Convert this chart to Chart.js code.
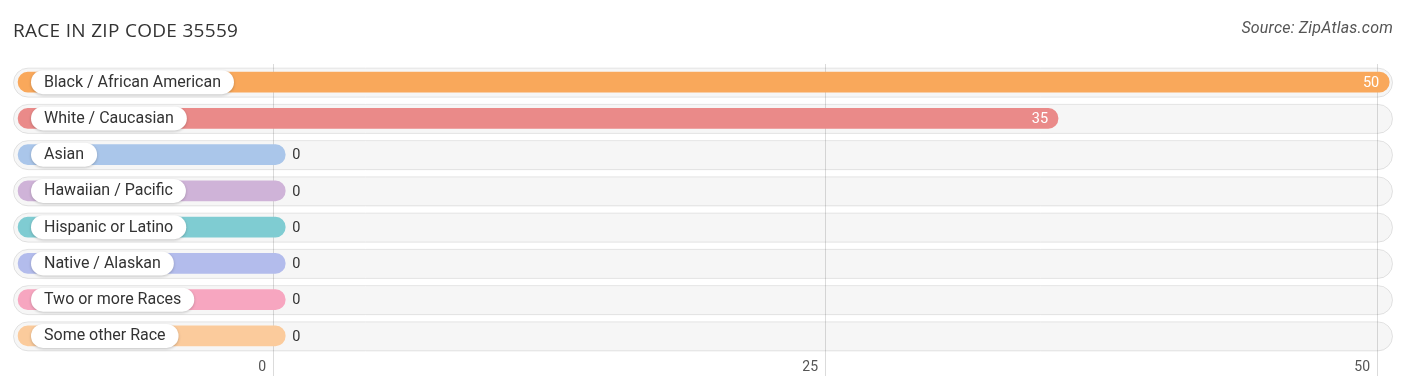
<!DOCTYPE html>
<html>
<head>
<meta charset="utf-8">
<script src="https://cdn.jsdelivr.net/npm/chart.js@4/dist/chart.umd.min.js"></script>
<style>
  html, body { margin: 0; padding: 0; background: #fff; }
  #wrap { position: relative; width: 1406px; height: 391px; overflow: hidden; }
  #c { position: absolute; left: 0; top: 0; }
  #title { position: absolute; left: 13px; top: 17px; font-family: "Open Sans", Lato, sans-serif; font-size: 19px; color: #333; letter-spacing: 0.3px; }
  #source { position: absolute; right: 13px; top: 18px; font-family: Roboto, "Open Sans", sans-serif; font-size: 16px; font-style: italic; color: #555; letter-spacing: 0.2px; }
</style>
</head>
<body>
<div id="wrap">
  <canvas id="c" width="1406" height="391"></canvas>
  <div id="title">RACE IN ZIP CODE 35559</div>
  <div id="source">Source: ZipAtlas.com</div>
</div>
<script>
const categories = ["Black / African American", "White / Caucasian", "Asian", "Hawaiian / Pacific", "Hispanic or Latino", "Native / Alaskan", "Two or more Races", "Some other Race"];
const values = [50, 35, 0, 0, 0, 0, 0, 0];
const barColors = ["#f9a85b", "#ea8a89", "#aac6ea", "#cfb3d8", "#7fccd2", "#b3bcec", "#f7a6c0", "#fbcb9c"];
const tickValues = [0, 25, 50];

const AXIS_MIN = -11.78, AXIS_MAX = 50.72;
const BAR_START = -11.55;   // where the coloured pill begins (left of zero, under the label)
const CAP = 0.55;           // rounded end cap extends past the value

const trackPlugin = {
  id: 'tracks',
  beforeDatasetsDraw(chart) {
    const ctx = chart.ctx, area = chart.chartArea;
    const meta = chart.getDatasetMeta(0);
    ctx.save();
    meta.data.forEach(bar => {
      const h = 29, y = bar.y - h / 2, x = area.left, w = area.right - area.left;
      ctx.beginPath();
      ctx.roundRect(x + 0.5, y + 0.5, w - 1, h, h / 2);
      ctx.shadowColor = 'rgba(0,0,0,0.10)';
      ctx.shadowBlur = 2;
      ctx.shadowOffsetY = 1;
      ctx.fillStyle = 'rgba(0,0,0,0.035)';
      ctx.fill();
      ctx.shadowColor = 'transparent';
      ctx.strokeStyle = 'rgba(0,0,0,0.10)';
      ctx.lineWidth = 1;
      ctx.stroke();
    });
    ctx.restore();
  }
};

const labelPlugin = {
  id: 'pillLabels',
  afterDatasetsDraw(chart) {
    const ctx = chart.ctx, area = chart.chartArea;
    const meta = chart.getDatasetMeta(0);
    ctx.save();
    meta.data.forEach((bar, i) => {
      const endX = Math.max(bar.x, bar.base);
      // category pill
      ctx.font = '16px Roboto, "Open Sans", sans-serif';
      const tw = ctx.measureText(categories[i]).width;
      const ph = 24, px = area.left + 18, py = bar.y - ph / 2, pw = tw + 26;
      ctx.beginPath();
      ctx.roundRect(px, py, pw, ph, ph / 2);
      ctx.shadowColor = 'rgba(0,0,0,0.22)';
      ctx.shadowBlur = 3;
      ctx.shadowOffsetY = 1;
      ctx.fillStyle = '#fff';
      ctx.fill();
      ctx.shadowColor = 'transparent';
      ctx.fillStyle = '#333';
      ctx.textBaseline = 'middle';
      ctx.textAlign = 'left';
      ctx.fillText(categories[i], px + 13, bar.y + 0.5);
      // value
      ctx.font = '14.5px Roboto, "Open Sans", sans-serif';
      const v = values[i];
      if (v > 0) {
        ctx.fillStyle = '#fff';
        ctx.textAlign = 'right';
        ctx.fillText(String(v), endX - 10, bar.y + 1);
      } else {
        ctx.fillStyle = '#333';
        ctx.textAlign = 'left';
        ctx.fillText(String(v), endX + 7, bar.y + 1);
      }
    });
    ctx.restore();
  }
};

new Chart(document.getElementById('c'), {
  type: 'bar',
  data: {
    labels: categories,
    datasets: [{
      data: values.map(v => [BAR_START, v + CAP]),
      backgroundColor: barColors,
      borderWidth: 0,
      borderRadius: 10,
      borderSkipped: false,
      barThickness: 20
    }]
  },
  options: {
    indexAxis: 'y',
    responsive: false,
    animation: false,
    devicePixelRatio: 1,
    layout: { padding: { left: 13, right: 13, top: 64, bottom: 15 } },
    plugins: { legend: { display: false }, tooltip: { enabled: false }, title: { display: false } },
    scales: {
      y: { display: false, offset: true },
      x: {
        position: 'bottom',
        min: AXIS_MIN, max: AXIS_MAX,
        afterBuildTicks(scale) { scale.ticks = tickValues.map(v => ({ value: v })); },
        afterFit(scale) { scale.height = 22; },
        border: { display: false },
        grid: { color: 'rgba(0,0,0,0.14)', lineWidth: 1, drawTicks: true, tickLength: 22 },
        ticks: {
          align: 'end',
          labelOffset: -7,
          padding: -17,
          maxRotation: 0,
          color: '#555',
          font: { family: 'Roboto, "Open Sans", sans-serif', size: 14 },
          callback: (v) => String(v)
        }
      }
    }
  },
  plugins: [trackPlugin, labelPlugin]
});
</script>
</body>
</html>
